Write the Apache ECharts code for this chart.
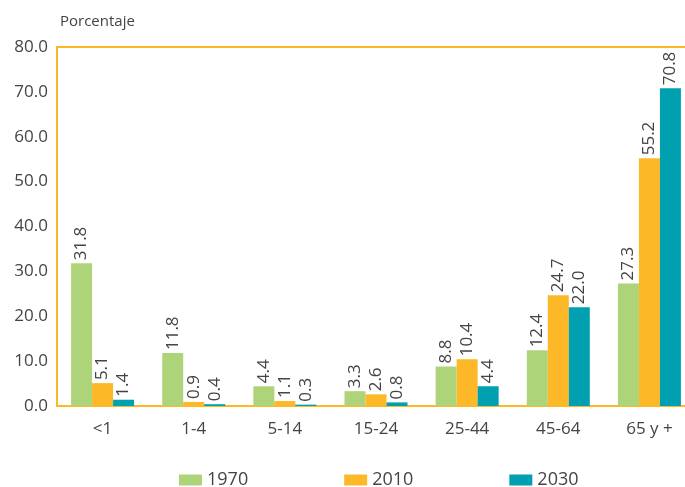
<!DOCTYPE html>
<html>
<head>
<meta charset="utf-8">
<script src="https://cdn.jsdelivr.net/npm/echarts@6/dist/echarts.min.js"></script>
<style>
  html, body { margin: 0; padding: 0; background: #fff; }
  #chart { width: 685px; height: 487px; }
</style>
</head>
<body>
<div id="chart"></div>
<script>
var categories = ['<1', '1-4', '5-14', '15-24', '25-44', '45-64', '65 y +'];
var values1970 = [31.8, 11.8, 4.4, 3.3, 8.8, 12.4, 27.3];
var values2010 = [5.1, 0.9, 1.1, 2.6, 10.4, 24.7, 55.2];
var values2030 = [1.4, 0.4, 0.3, 0.8, 4.4, 22.0, 70.8];

var fontName = '"Open Sans", "Noto Sans", sans-serif';
var textColor = '#444';

function barSeries(name, data, color) {
  return {
    name: name,
    type: 'bar',
    data: data,
    barWidth: 21,
    barGap: '0%',
    itemStyle: { color: color },
    label: {
      show: true,
      position: 'top',
      rotate: 90,
      align: 'left',
      verticalAlign: 'middle',
      distance: 3,
      color: textColor,
      fontFamily: fontName,
      fontSize: 17,
      formatter: function (p) { return p.value.toFixed(1); }
    }
  };
}

var chart = echarts.init(document.getElementById('chart'));
chart.setOption({
  animation: false,
  grid: {
    left: 57, right: -10, top: 47, bottom: 81,
    outerBoundsMode: 'none',
    containLabel: false,
    show: true,
    borderColor: '#FDB827',
    borderWidth: 2
  },
  legend: {
    top: 466,
    left: 174,
    itemWidth: 23,
    itemHeight: 11,
    itemGap: 96,
    icon: 'rect',
    textStyle: { color: textColor, fontFamily: fontName, fontSize: 18 }
  },
  xAxis: {
    type: 'category',
    data: categories,
    axisLine: { show: false },
    axisTick: { show: false },
    axisLabel: { color: textColor, fontFamily: fontName, fontSize: 17, margin: 15 }
  },
  yAxis: {
    type: 'value',
    min: 0, max: 80, interval: 10,
    name: 'Porcentaje',
    nameLocation: 'end',
    nameGap: 18,
    nameTextStyle: { color: textColor, fontFamily: fontName, fontSize: 15, align: 'left', padding: [0, 0, 0, 3] },
    axisLine: { show: false },
    axisTick: { show: false },
    splitLine: { show: false },
    axisLabel: {
      color: textColor, fontFamily: fontName, fontSize: 17, margin: 9,
      formatter: function (v) { return v.toFixed(1); }
    }
  },
  series: [
    barSeries('1970', values1970, '#AED47A'),
    barSeries('2010', values2010, '#FDB827'),
    barSeries('2030', values2030, '#00A0B0')
  ]
});
</script>
</body>
</html>
